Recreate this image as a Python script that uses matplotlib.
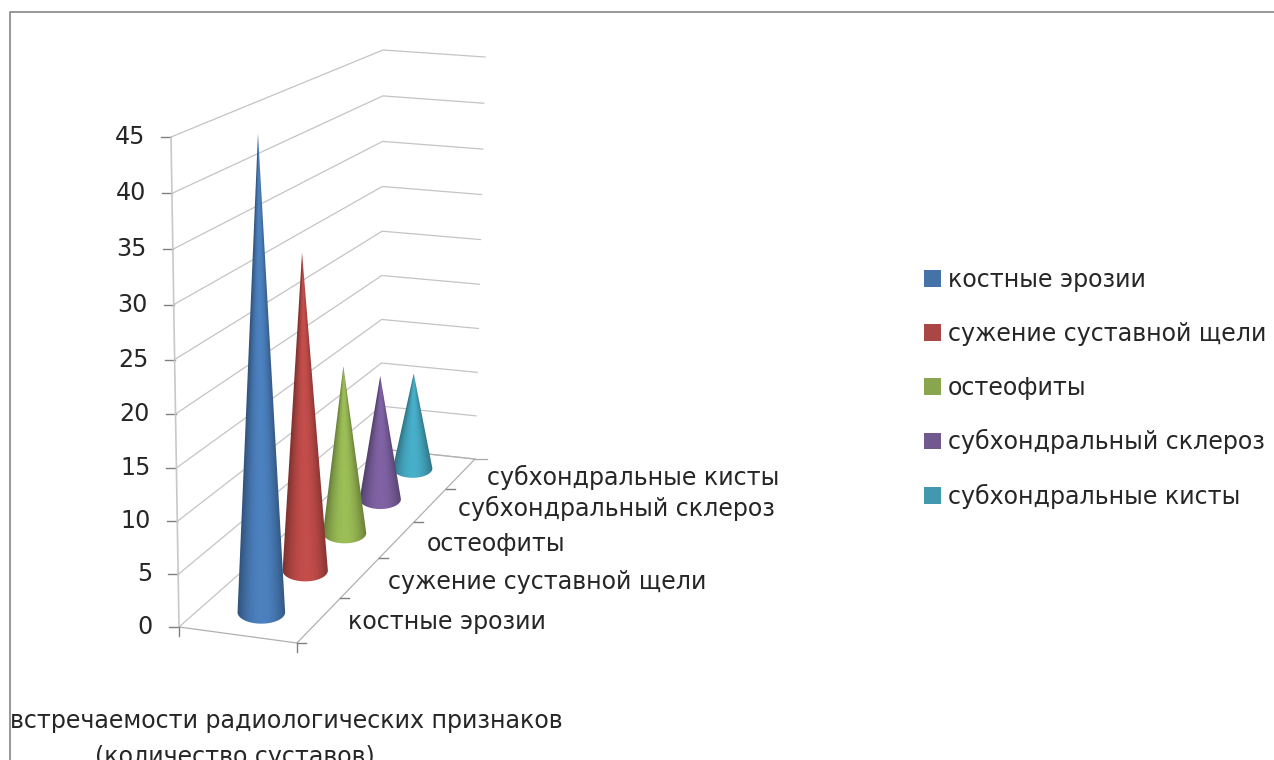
import numpy as np
from matplotlib import pyplot as plt
from matplotlib.colors import to_rgb
from matplotlib.patches import Patch, Polygon, Rectangle

categories = ['костные эрозии', 'сужение суставной щели', 'остеофиты',
              'субхондральный склероз', 'субхондральные кисты']
values = [44.6, 31.5, 17.5, 13.5, 10.8]
y_ticks = [0, 5, 10, 15, 20, 25, 30, 35, 40, 45]
axis_title = ['встречаемости радиологических признаков', '(количество суставов)']
legend_colors = ['#4573A7', '#AA4644', '#89A54E', '#71588F', '#4298AF']
cone_colors = ['#4A7EBB', '#BE4B48', '#98B954', '#7D60A0', '#46AAC4']

# box corners in picture pixels: front-left, front-right, back-right, back-left
floor_px = [(179, 627), (297, 643), (475, 459), (381, 449)]
roof_px = [(171, 137), (297, 140), (485, 57), (383, 50)]
label_px = [(348, 622), (388, 582), (427, 544), (458, 508), (487, 477)]
v_max = y_ticks[-1]
line_color = '#c4c4c4'
text_color = '#262626'
font_size = 17.1


def homography(corners):
    # maps the unit square (x, depth) onto four picture points
    src = [(0, 0), (1, 0), (1, 1), (0, 1)]
    A, b = [], []
    for (u, v), (px, py) in zip(src, corners):
        A.append([u, v, 1, 0, 0, 0, -u * px, -v * px])
        A.append([0, 0, 0, u, v, 1, -u * py, -v * py])
        b += [px, py]
    return np.append(np.linalg.solve(np.array(A, float), np.array(b, float)), 1).reshape(3, 3)


H_floor = homography(floor_px)
H_roof = homography(roof_px)


def project(x, depth, value=0.0):
    p = H_floor @ [x, depth, 1]
    q = H_roof @ [x, depth, 1]
    p = p[:2] / p[2]
    q = q[:2] / q[2]
    f = value / v_max
    # slight vertical perspective
    w = f / (f + (1 - f) * 1.04)
    return p + (q - p) * w


fig = plt.figure(figsize=(12.74, 7.6), dpi=100)
ax = fig.add_axes([0, 0, 1, 1])
ax.set_xlim(0, 1274)
ax.set_ylim(760, 0)
ax.autoscale(False)
ax.axis('off')

# chart frame, only top and left are inside the crop
ax.plot([10, 10, 1274], [760, 12, 12], color='#868686', lw=1.2)

# walls
for v in y_ticks:
    a, b, c = project(0, 0, v), project(0, 1, v), project(1, 1, v)
    ax.plot([a[0], b[0], c[0]], [a[1], b[1], c[1]], color=line_color, lw=0.9, zorder=1)
    ax.plot([a[0] - 10, a[0]], [a[1], a[1]], color='#808080', lw=1.0, zorder=1)
    ax.text(a[0] - 26, a[1], str(v), ha='right', va='center', fontsize=font_size, color=text_color)

# value axis and floor edges
pts = np.array([project(0, 0, v) for v in (0, v_max)])
ax.plot(pts[:, 0], pts[:, 1], color='#c8c8c8', lw=1.2, zorder=1)
pts = np.array([project(0, 0), project(1, 0), project(1, 1), project(0, 1)])
ax.plot(pts[:, 0], pts[:, 1], color='#b0b0b0', lw=0.9, zorder=1)
ax.plot([pts[0, 0], pts[0, 0]], [pts[0, 1], pts[0, 1] + 9], color='#808080', lw=1.0)
ax.plot([pts[1, 0], pts[1, 0]], [pts[1, 1], pts[1, 1] + 9], color='#808080', lw=1.0)
ax.plot([pts[1, 0], pts[1, 0] + 9], [pts[1, 1], pts[1, 1]], color='#808080', lw=1.0)
ax.plot([pts[2, 0], pts[2, 0] + 12], [pts[2, 1], pts[2, 1]], color='#a8a8a8', lw=0.9)
for i in range(1, len(categories)):
    p = project(1, i / len(categories))
    ax.plot([p[0], p[0] + 9], [p[1], p[1]], color='#808080', lw=1.0)

# cones, back to front: a shaded image cut to the outline of each cone
for i in reversed(range(len(categories))):
    depth = (i + 0.5) / len(categories)
    base = project(0.5, depth)
    tip = project(0.5, depth, values[i])
    rx = 0.205 * np.linalg.norm(project(1, depth) - project(0, depth))
    ry = 0.48 * rx

    x0, x1 = base[0] - rx - 2, base[0] + rx + 2
    y0, y1 = tip[1] - 2, base[1] + ry + 2
    xs = np.linspace(x0, x1, 160)
    ys = np.linspace(y0, y1, 600)
    xx, yy = np.meshgrid(xs, ys)
    h = np.clip((base[1] - yy) / (base[1] - tip[1]), 0, 0.995)
    u = (xx - (base[0] + (tip[0] - base[0]) * h)) / (rx * (1 - h))
    shade = 1.03 - 0.36 * np.clip(u, -1, 1) ** 2
    img = np.clip(np.array(to_rgb(cone_colors[i])) * shade[..., None], 0, 1)

    angles = np.linspace(0, np.pi, 61)
    outline = [tip] + [(base[0] + rx * np.cos(t), base[1] + ry * np.sin(t)) for t in angles]
    patch = Polygon(outline, closed=True, transform=ax.transData)
    ax.imshow(img, extent=(x0, x1, y1, y0), aspect='auto', interpolation='bilinear',
              zorder=3 + len(categories) - i, clip_path=patch)

# category labels
for name, (lx, ly) in zip(categories, label_px):
    ax.text(lx, ly, name, ha='left', va='center', fontsize=font_size, color=text_color)

# value axis title, cut off by the frame and the picture edge
clip = Rectangle((10, 0), 1264, 760, transform=ax.transData)
t = ax.text(563, 721, axis_title[0], ha='right', va='center', fontsize=font_size, color=text_color)
t.set_clip_path(clip)
t.set_clip_on(True)
t = ax.text(235, 757, axis_title[1], ha='center', va='center', fontsize=font_size, color=text_color)
t.set_clip_path(clip)
t.set_clip_on(True)

handles = [Patch(facecolor=c, edgecolor='none', label=n) for c, n in zip(legend_colors, categories)]
ax.legend(handles=handles, loc='upper left', bbox_to_anchor=(917 / 1274, 1 - 261 / 760), frameon=False,
          fontsize=font_size, labelcolor=text_color, handlelength=0.71, handleheight=0.71,
          handletextpad=0.29, labelspacing=1.25, borderpad=0.3, borderaxespad=0)

fig.savefig('out.png', dpi=100)
